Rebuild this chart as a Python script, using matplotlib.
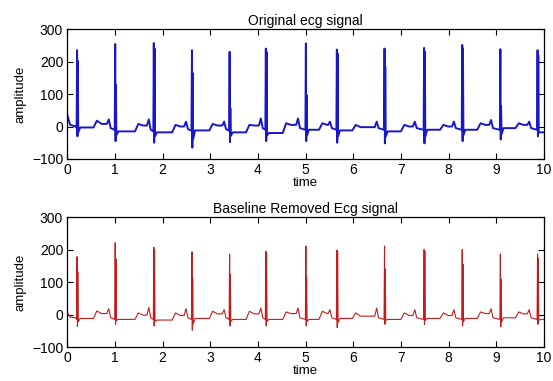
import matplotlib
matplotlib.use("Agg")
import matplotlib.pyplot as plt

# ---- data ----
beat_times = [0.21, 1.01, 1.82, 2.62, 3.41, 4.17, 5.01, 5.66, 6.66, 7.49, 8.29, 9.09, 9.87]
t_onsets = [0.55, 1.42, 2.20, 2.98, 3.75, 4.52, 5.28, 5.98, 7.00, 7.82, 8.60, 9.40]
p_times = [0.88, 1.72, 2.50, 3.30, 4.07, 4.85, 5.52, 6.50, 7.30, 8.12, 8.90, 9.70]
lead_times = [0.0, 0.06, 0.18]

# original signal
orig_lead = [35, 5, 0]
orig_r = [235, 254, 257, 235, 230, 240, 256, 237, 240, 242, 251, 238, 235]
orig_r2 = [202, 128, 240, 165, 57, 230, 97, 225, 184, 230, 240, 63, 220]
orig_s = [-30, -45, -50, -65, -48, -45, -45, -50, -52, -52, -45, -40, -30]
orig_iso = [-3, -15, -18, -12, -18, -20, -10, -12, -15, -10, -10, -5, -18]
orig_t = [18, 8, 5, 8, 5, 10, 10, 5, 5, 5, 10, 10]
orig_mid = [8, 3, 0, 3, 3, 5, 5, -2, 0, 0, 5, 5]
orig_p = [22, 22, 15, 15, 25, 25, 15, 15, 15, 15, 20, 15]
orig_pre = [-5, -10, -8, -8, -5, -5, -5, -5, -5, -5, -5, -5]

# baseline removed signal
filt_lead = [5, -8, -10]
filt_r = [178, 221, 207, 193, 186, 195, 211, 198, 211, 200, 200, 186, 186]
filt_r2 = [132, 171, 200, 112, 124, 190, 115, 195, 140, 195, 155, 109, 174]
filt_s = [-37, -30, -35, -48, -35, -35, -35, -40, -30, -30, -35, -38, -30]
filt_iso = [-12, -15, -17, -12, -15, -15, -15, -12, -15, -12, -12, -10, -15]
filt_t = [11, 5, 5, 10, 10, 8, 10, 5, 5, 5, 8, 8]
filt_mid = [3, -2, -3, 2, 2, 3, 3, -5, -3, -3, 3, 2]
filt_p = [18, 22, 18, 15, 20, 20, 15, 20, 15, 15, 18, 15]
filt_pre = [-10, -10, -10, -10, -10, -10, -10, -10, -10, -10, -10, -10]

x_ticks = list(range(0, 11))
y_ticks = [-100, 0, 100, 200, 300]


def build(lead, r, r2, s, iso, t_amp, mid, p_amp, pre):
    xs, ys = list(lead_times), list(lead)
    n = len(beat_times)
    for i, rt in enumerate(beat_times):
        prev = ys[-1]
        xs += [rt - 0.015, rt - 0.005, rt + 0.003, rt + 0.010, rt + 0.020, rt + 0.060]
        ys += [prev - 5, r[i], s[i], r2[i], s[i] * 0.6, iso[i]]
        if i < n - 1:
            to, pt = t_onsets[i], p_times[i]
            xs += [to, to + 0.07, to + 0.17, pt - 0.05, pt - 0.01, pt + 0.03]
            ys += [iso[i], t_amp[i], mid[i], mid[i], p_amp[i], pre[i]]
        else:
            xs += [10.0]
            ys += [iso[i]]
    return xs, ys


plt.rcParams['font.family'] = ['Liberation Sans', 'DejaVu Sans']
fig = plt.figure(figsize=(5.53, 3.81), dpi=100)

panels = [
    ([0.1217, 0.5827, 0.862, 0.341], build(orig_lead, orig_r, orig_r2, orig_s, orig_iso,
                                            orig_t, orig_mid, orig_p, orig_pre),
     '#1818c8', 1.4, 'Original ecg signal'),
    ([0.1217, 0.0892, 0.862, 0.341], build(filt_lead, filt_r, filt_r2, filt_s, filt_iso,
                                            filt_t, filt_mid, filt_p, filt_pre),
     '#c41c1c', 0.8, 'Baseline Removed Ecg signal'),
]

for rect, (xs, ys), col, lw, title in panels:
    ax = fig.add_axes(rect)
    ax.plot(xs, ys, color=col, lw=lw)
    ax.set_xlim(0, 10)
    ax.set_ylim(-100, 300)
    ax.set_xticks(x_ticks)
    ax.set_yticks(y_ticks)
    ax.tick_params(direction='in', top=True, right=True, length=4, width=0.8,
                   labelsize=10, pad=3)
    for sp in ax.spines.values():
        sp.set_linewidth(0.9)
    ax.set_title(title, fontsize=10, pad=3)
    ax.set_xlabel('time', fontsize=9.5, labelpad=0)
    ax.set_ylabel('amplitude', fontsize=9.5, labelpad=4)

fig.savefig('out.png', dpi=100)
